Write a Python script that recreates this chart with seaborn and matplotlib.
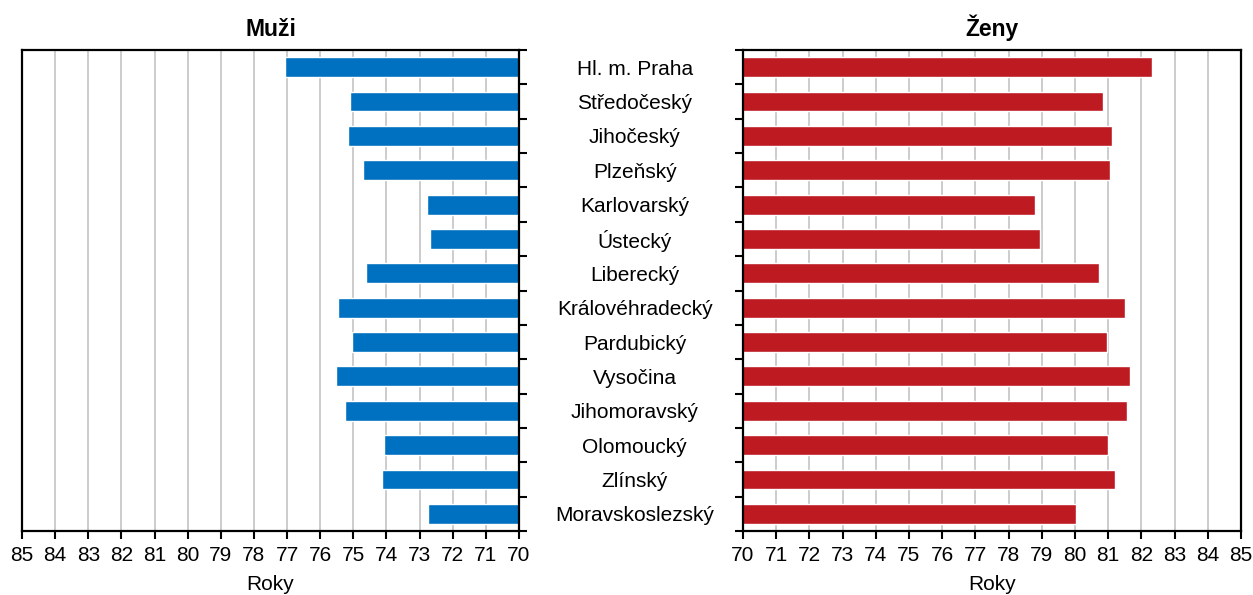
import matplotlib
matplotlib.use('Agg')
import matplotlib.pyplot as plt
import seaborn as sns
import pandas as pd
import numpy as np

kraje = ['Hl. m. Praha', 'Středočeský', 'Jihočeský', 'Plzeňský', 'Karlovarský',
         'Ústecký', 'Liberecký', 'Královéhradecký', 'Pardubický', 'Vysočina',
         'Jihomoravský', 'Olomoucký', 'Zlínský', 'Moravskoslezský']
muzi = [77.05, 75.10, 75.16, 74.71, 72.79, 72.68, 74.63, 75.45, 75.04, 75.53,
        75.24, 74.07, 74.12, 72.74]
zeny = [82.32, 80.83, 81.11, 81.05, 78.81, 78.96, 80.72, 81.50, 80.95, 81.65,
        81.56, 80.99, 81.19, 80.04]

BLUE = '#0070c0'
RED = '#be1a22'
FS = 15

sns.set_theme(style='white')
plt.rcParams['font.family'] = ['Liberation Sans', 'DejaVu Sans']
for k in ['text.color', 'axes.labelcolor', 'xtick.color', 'ytick.color']:
    plt.rcParams[k] = 'black'

df = pd.DataFrame({'kraj': kraje, 'muzi': muzi, 'zeny': zeny})

W, H = 1253, 595
fig = plt.figure(figsize=(W / 100, H / 100), dpi=100)
top, bottom = 50, 531
ax_l = fig.add_axes([22 / W, (H - bottom) / H, (519 - 22) / W, (bottom - top) / H])
ax_r = fig.add_axes([743 / W, (H - bottom) / H, (1241 - 743) / W, (bottom - top) / H])

sns.barplot(data=df, x='muzi', y='kraj', orient='h', color=BLUE, width=0.58,
            saturation=1, ax=ax_l, zorder=2)
sns.barplot(data=df, x='zeny', y='kraj', orient='h', color=RED, width=0.58,
            saturation=1, ax=ax_r, zorder=2)

ax_l.set_xlim(85, 70)
ax_r.set_xlim(70, 85)

for ax, title in [(ax_l, 'Muži'), (ax_r, 'Ženy')]:
    ax.set_ylim(len(kraje) - 0.5, -0.5)
    ax.set_xticks(np.arange(70, 86, 1))
    ax.grid(axis='x', color='#c8c8c8', lw=1.3, zorder=0)
    ax.grid(axis='y', visible=False)
    ax.set_axisbelow(True)
    for s in ax.spines.values():
        s.set_color('black')
        s.set_linewidth(1.6)
        s.set_visible(True)
    ax.tick_params(axis='x', direction='out', length=6, width=1.5, color='black',
                   labelsize=FS, pad=5, bottom=True)
    ax.set_yticks(np.arange(len(kraje)))
    ax.set_yticks(np.arange(-0.5, len(kraje), 1), minor=True)
    ax.tick_params(axis='y', which='major', length=0)
    ax.tick_params(axis='y', which='minor', direction='out', length=6, width=1.5,
                   color='black')
    ax.set_xlabel('Roky', fontsize=FS, labelpad=7)
    ax.set_ylabel('')
    ax.set_title(title, fontsize=16.5, fontweight='bold', pad=10)

ax_l.yaxis.tick_right()
ax_l.tick_params(axis='y', which='both', labelright=False, labelleft=False)
ax_l.tick_params(axis='y', which='minor', right=True, left=False)

ax_r.tick_params(axis='y', which='major', labelleft=True, labelsize=FS, pad=78)
ax_r.tick_params(axis='y', which='minor', left=True, right=False)
for lab in ax_r.get_yticklabels():
    lab.set_horizontalalignment('center')

fig.savefig('out.png', dpi=100)
